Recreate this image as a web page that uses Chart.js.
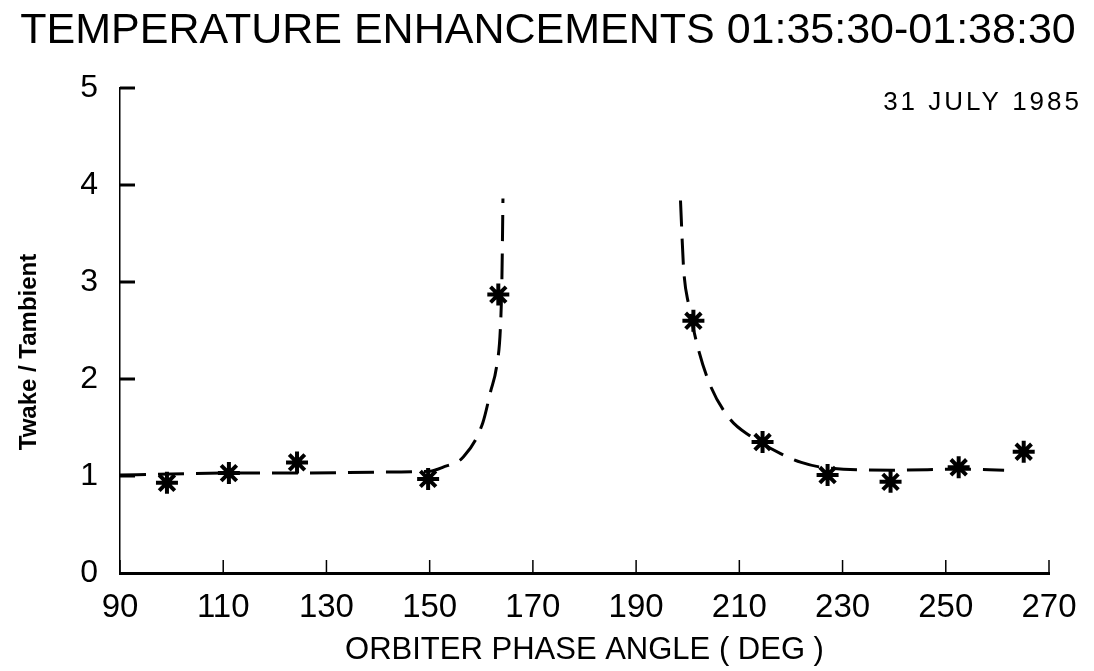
<!DOCTYPE html>
<html>
<head>
<meta charset="utf-8">
<script src="https://cdn.jsdelivr.net/npm/chart.js@4.4.1/dist/chart.umd.min.js"></script>
<style>
  html, body { margin: 0; padding: 0; background: #fff; }
  #wrap { width: 1094px; height: 671px; }
</style>
</head>
<body>
<div id="wrap"><canvas id="tempChart"></canvas></div>
<script>
// measured points (asterisks)
const starPhase = [99.1, 111.1, 124.3, 149.7, 163.3, 201.1, 214.5, 227.1, 239.3, 252.5, 265.1];
const starRatio = [0.93, 1.03, 1.14, 0.97, 2.87, 2.60, 1.35, 1.01, 0.94, 1.09, 1.25];

// dashed fit before the wake crossing
const leftFitPhase = [90, 100, 111, 124, 140, 150, 152.5, 156.6, 160.3, 161.8, 163.0, 163.7, 164.0, 164.2];
const leftFitRatio = [1.01, 1.02, 1.03, 1.03, 1.04, 1.05, 1.09, 1.20, 1.55, 1.87, 2.14, 2.52, 3.04, 3.86];

// dashed fit after the wake crossing
const rightFitPhase = [198.6, 199.2, 200.2, 201.9, 204.4, 208.3, 212.2, 218.0, 222.0, 226.0, 240, 252.9, 261.3];
const rightFitRatio = [3.84, 3.14, 2.76, 2.34, 1.93, 1.58, 1.41, 1.23, 1.14, 1.09, 1.06, 1.07, 1.06];

const xMin = 90, xMax = 270, xStep = 20;
const yMin = 0, yMax = 5, yStep = 1;
const titleText = 'TEMPERATURE ENHANCEMENTS 01:35:30-01:38:30';
const yTitleText = 'Twake / Tambient';
const dateLabel = '31 JULY 1985';

const FONT = "'Liberation Sans', Arial, sans-serif";
const zip = (xs, ys) => xs.map((x, i) => ({ x: x, y: ys[i] }));

// tick marks are drawn inside the plot, like the original; plus title, y title and date
const extras = {
    id: 'extras',
    afterDraw(chart) {
        const ctx = chart.ctx;
        const { x, y } = chart.scales;
        ctx.save();
        ctx.strokeStyle = '#000';
        ctx.lineCap = 'butt';
        ctx.lineWidth = 1.5;
        x.ticks.forEach(t => {
            const px = x.getPixelForValue(t.value);
            ctx.beginPath();
            ctx.moveTo(px, y.bottom);
            ctx.lineTo(px, y.bottom - 13);
            ctx.stroke();
        });
        ctx.lineWidth = 3;
        y.ticks.forEach(t => {
            if (t.value === 0) return;
            const py = y.getPixelForValue(t.value);
            ctx.beginPath();
            ctx.moveTo(x.left, py);
            ctx.lineTo(x.left + 15, py);
            ctx.stroke();
        });

        ctx.fillStyle = '#000';
        ctx.textBaseline = 'middle';
        ctx.textAlign = 'center';
        ctx.font = '43px ' + FONT;
        ctx.fillText(titleText, 548, 31);

        // y title sits a bit below the axis middle in the original
        ctx.save();
        ctx.translate(29, 352);
        ctx.rotate(-Math.PI / 2);
        ctx.font = 'bold 24px ' + FONT;
        ctx.fillText(yTitleText, 0, 0);
        ctx.restore();

        ctx.font = '26px ' + FONT;
        ctx.letterSpacing = '3px';
        ctx.textAlign = 'right';
        ctx.fillText(dateLabel, 1082, 103);
        ctx.restore();
    }
};

new Chart(document.getElementById('tempChart'), {
    type: 'scatter',
    data: {
        datasets: [
            {
                type: 'line',
                data: zip(leftFitPhase, leftFitRatio),
                borderColor: '#000',
                borderWidth: 3,
                borderDash: [26, 12],
                cubicInterpolationMode: 'monotone',
                pointRadius: 0,
                fill: false
            },
            {
                type: 'line',
                data: zip(rightFitPhase, rightFitRatio),
                borderColor: '#000',
                borderWidth: 3,
                borderDash: [26, 12],
                cubicInterpolationMode: 'monotone',
                pointRadius: 0,
                fill: false
            },
            {
                data: zip(starPhase, starRatio),
                pointStyle: 'star',
                pointRadius: 11,
                borderWidth: 4,
                borderColor: '#000',
                backgroundColor: '#000'
            }
        ]
    },
    options: {
        responsive: true,
        maintainAspectRatio: false,
        animation: false,
        layout: { padding: { left: 0, right: 45, top: 88, bottom: 0 } },
        plugins: {
            legend: { display: false },
            tooltip: { enabled: false },
            title: { display: false }
        },
        scales: {
            x: {
                type: 'linear',
                min: xMin,
                max: xMax,
                afterFit: s => { s.height = 98; },
                grid: { display: false },
                border: { display: true, color: '#000', width: 3 },
                ticks: {
                    stepSize: xStep,
                    color: '#000',
                    padding: 7,
                    maxRotation: 0,
                    font: { family: FONT, size: 33 }
                },
                title: {
                    display: true,
                    text: 'ORBITER PHASE ANGLE ( DEG )',
                    color: '#000',
                    font: { family: FONT, size: 31 },
                    padding: { top: 0, bottom: 2 }
                }
            },
            y: {
                min: yMin,
                max: yMax,
                afterFit: s => { s.width = 120; },
                grid: { display: false },
                border: { display: true, color: '#000', width: 1.5 },
                ticks: {
                    stepSize: yStep,
                    color: '#000',
                    padding: 14,
                    font: { family: FONT, size: 32 }
                },
                title: { display: false }
            }
        }
    },
    plugins: [extras]
});
</script>
</body>
</html>
